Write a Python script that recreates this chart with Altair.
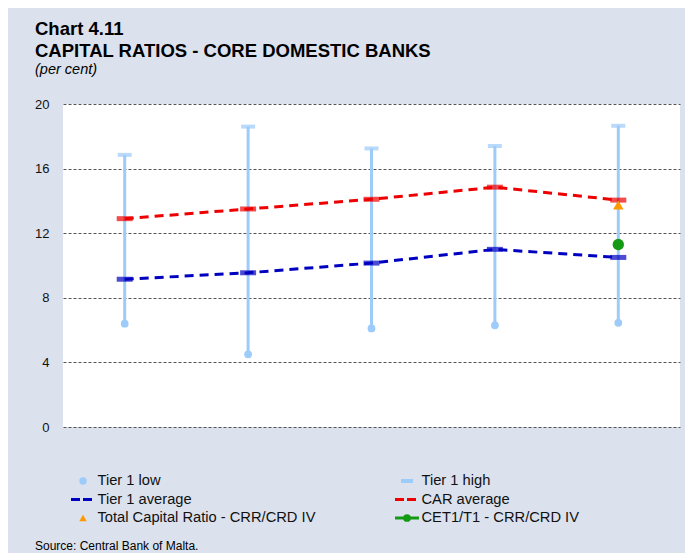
import altair as alt
import pandas as pd

years = [2010, 2011, 2012, 2013, 2014]
tier1_low = [6.4, 4.5, 6.1, 6.3, 6.45]
tier1_high = [16.85, 18.6, 17.25, 17.4, 18.65]
tier1_avg = [9.15, 9.55, 10.15, 11.0, 10.5]
car_avg = [12.9, 13.5, 14.1, 14.85, 14.05]
tcr_year = [2014]
tcr_value = [13.75]
cet1_year = [2014]
cet1_value = [11.3]

legend_labels = ["Tier 1 low", "Tier 1 high", "Tier 1 average", "CAR average",
                 "Total Capital Ratio - CRR/CRD IV", "CET1/T1 - CRR/CRD IV"]

W, H = 617, 323
BG = "#dbe1ed"
LIGHT = "#9dcbfa"
BLUE = "#0000c0"
RED = "#ee0000"
ORANGE = "#ff9900"
GREEN = "#159a15"
FONT = "Liberation Sans"

df = pd.DataFrame({"year": years, "low": tier1_low, "high": tier1_high,
                   "t1": tier1_avg, "car": car_avg})
df_tcr = pd.DataFrame({"year": tcr_year, "v": tcr_value})
df_cet = pd.DataFrame({"year": cet1_year, "v": cet1_value})

xscale = alt.Scale(domain=[2009.5, 2014.5], nice=False, zero=False)
yscale = alt.Scale(domain=[0, 20], nice=False)

X = alt.X("year:Q", scale=xscale,
          axis=alt.Axis(values=years, format="d", title=None, grid=False,
                        ticks=False, domainColor="black", domainWidth=2,
                        labelFontSize=14, labelColor="#111", labelFont=FONT,
                        labelPadding=9))
Xn = alt.X("year:Q", scale=xscale, axis=None)

base = alt.Chart(df)

grid = base.mark_rule(opacity=0).encode(
    x=X,
    y=alt.Y("low:Q", scale=yscale,
            axis=alt.Axis(values=[0, 4, 8, 12, 16, 20], title=None, grid=True,
                          gridDash=[3, 2], gridColor="#555", gridWidth=1,
                          domain=False, ticks=False, labelFontSize=13,
                          labelColor="#111", labelFont=FONT, labelPadding=14)))

rng = base.mark_rule(color=LIGHT, strokeWidth=3).encode(
    x=Xn, y=alt.Y("low:Q", scale=yscale), y2="high:Q")
caps = base.mark_tick(color=LIGHT, size=14, thickness=4, orient="horizontal").encode(
    x=Xn, y=alt.Y("high:Q", scale=yscale))
lows = base.mark_point(color=LIGHT, filled=True, opacity=1, size=60, shape="circle").encode(
    x=Xn, y=alt.Y("low:Q", scale=yscale))

car_line = base.mark_line(color=RED, strokeWidth=3, strokeDash=[9, 6]).encode(
    x=Xn, y=alt.Y("car:Q", scale=yscale))
car_mk = base.mark_tick(color=RED, size=16, thickness=5, orient="horizontal").encode(
    x=Xn, y=alt.Y("car:Q", scale=yscale))
t1_line = base.mark_line(color=BLUE, strokeWidth=3, strokeDash=[9, 6]).encode(
    x=Xn, y=alt.Y("t1:Q", scale=yscale))
t1_mk = base.mark_tick(color=BLUE, size=16, thickness=5, orient="horizontal").encode(
    x=Xn, y=alt.Y("t1:Q", scale=yscale))

tcr = alt.Chart(df_tcr).mark_point(shape="triangle-up", filled=True, opacity=1,
                                   color=ORANGE, size=110).encode(
    x=Xn, y=alt.Y("v:Q", scale=yscale))
cet = alt.Chart(df_cet).mark_point(shape="circle", filled=True, opacity=1,
                                   color=GREEN, size=130).encode(
    x=Xn, y=alt.Y("v:Q", scale=yscale))

# ---- legend (layout built from the label list) ----
col_x = [20, 344]
row_y = [377, 395.5, 414]
leg = pd.DataFrame({
    "label": legend_labels,
    "lx": [col_x[i % 2] for i in range(6)],
    "ly": [row_y[i // 2] for i in range(6)],
})
leg["tx"] = leg["lx"] + 14.5
leg["x1"] = leg["lx"] - 12
leg["x2"] = leg["lx"] + 12
leg["s1"] = leg["lx"] - 6
leg["s2"] = leg["lx"] + 6

pxX = lambda f: alt.X(f, scale=None, axis=None)
pxY = lambda f: alt.Y(f, scale=None, axis=None)

lb = alt.Chart(leg)
leg_text = lb.mark_text(align="left", baseline="middle", fontSize=14.7, font=FONT,
                        color="#111").encode(x=pxX("tx:Q"), y=pxY("ly:Q"), text="label:N")
leg_low = lb.transform_filter(alt.datum.label == legend_labels[0]).mark_point(
    shape="circle", filled=True, opacity=1, color=LIGHT, size=55).encode(
    x=pxX("lx:Q"), y=pxY("ly:Q"))
leg_high = lb.transform_filter(alt.datum.label == legend_labels[1]).mark_rule(
    color=LIGHT, strokeWidth=4).encode(
    x=pxX("s1:Q"), x2="s2:Q", y=pxY("ly:Q"))
leg_t1 = lb.transform_filter(alt.datum.label == legend_labels[2]).mark_rule(
    color=BLUE, strokeWidth=3, strokeDash=[9, 3]).encode(
    x=pxX("x1:Q"), x2="x2:Q", y=pxY("ly:Q"))
leg_car = lb.transform_filter(alt.datum.label == legend_labels[3]).mark_rule(
    color=RED, strokeWidth=3, strokeDash=[9, 3]).encode(
    x=pxX("x1:Q"), x2="x2:Q", y=pxY("ly:Q"))
leg_tcr = lb.transform_filter(alt.datum.label == legend_labels[4]).mark_point(
    shape="triangle-up", filled=True, opacity=1, color=ORANGE, size=55).encode(
    x=pxX("lx:Q"), y=pxY("ly:Q"))
leg_cet_l = lb.transform_filter(alt.datum.label == legend_labels[5]).mark_rule(
    color=GREEN, strokeWidth=3).encode(
    x=pxX("x1:Q"), x2="x2:Q", y=pxY("ly:Q"))
leg_cet_p = lb.transform_filter(alt.datum.label == legend_labels[5]).mark_point(
    shape="circle", filled=True, opacity=1, color=GREEN, size=60).encode(
    x=pxX("lx:Q"), y=pxY("ly:Q"))

# ---- titles and source ----
texts = pd.DataFrame({
    "t": ["Chart 4.11", "CAPITAL RATIOS - CORE DOMESTIC BANKS"],
    "y": [-69, -47],
})
titles = alt.Chart(texts).mark_text(align="left", baseline="alphabetic", fontSize=18.5,
                                    fontWeight="bold", font=FONT, color="#000").encode(
    x=alt.value(-28), y=pxY("y:Q"), text="t:N")
sub = alt.Chart(pd.DataFrame({"t": ["(per cent)"]})).mark_text(
    align="left", baseline="alphabetic", fontSize=14.5, fontStyle="italic",
    font=FONT, color="#000").encode(x=alt.value(-28), y=alt.value(-30), text="t:N")
src = alt.Chart(pd.DataFrame({"t": ["Source: Central Bank of Malta."]})).mark_text(
    align="left", baseline="alphabetic", fontSize=12, font=FONT, color="#000").encode(
    x=alt.value(-28), y=alt.value(446), text="t:N")

chart = alt.layer(
    grid, rng, caps, lows, car_line, car_mk, t1_line, t1_mk, tcr, cet,
    leg_text, leg_low, leg_high, leg_t1, leg_car, leg_tcr, leg_cet_l, leg_cet_p,
    titles, sub, src
).properties(
    width=W, height=H,
    autosize=alt.AutoSizeParams(type="none"),
    padding={"left": 55, "top": 96, "right": 5, "bottom": 126},
    background=BG,
).configure_view(fill="white", stroke=None)

chart.save("out.html", embed_options={"renderer": "svg", "actions": False})
